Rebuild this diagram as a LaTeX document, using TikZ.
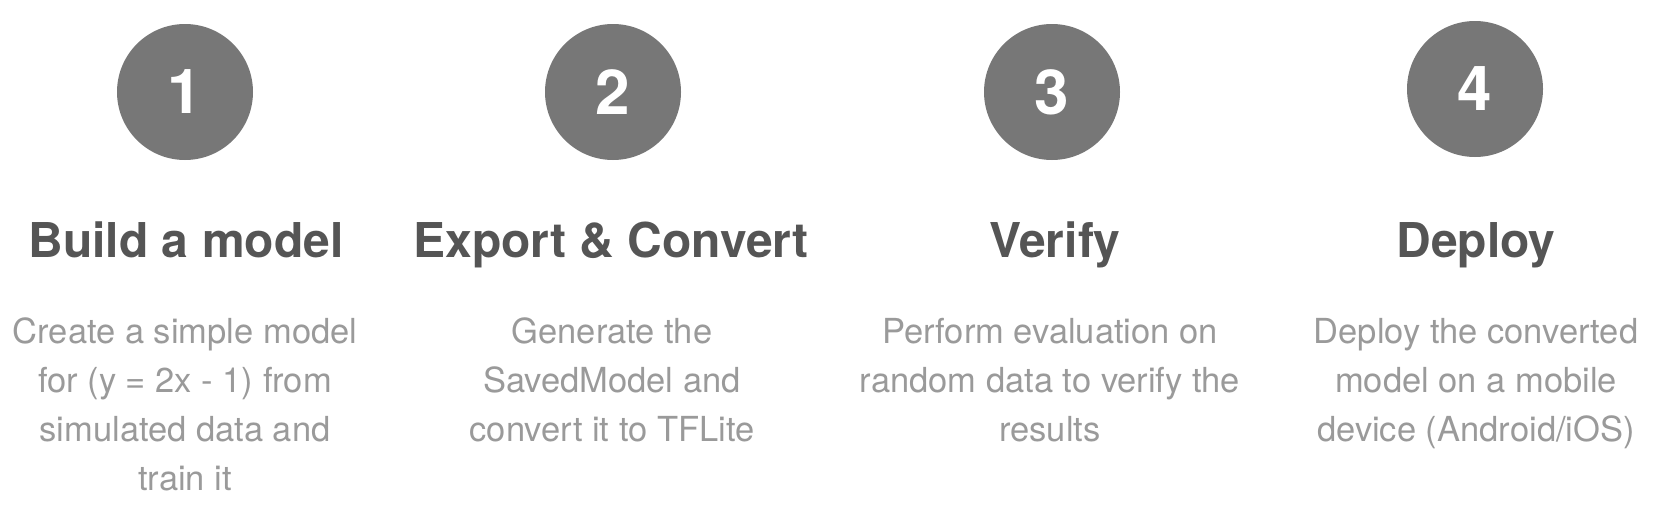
\documentclass[tikz,border=0pt]{standalone}
\usepackage{fontspec}
\setmainfont{TeX Gyre Heros}
\definecolor{discgray}{HTML}{777777}
\definecolor{headgray}{HTML}{555555}
\definecolor{bodygray}{HTML}{9A9A9A}
\tikzset{
	stepnode/.style = {align=center, inner sep=0pt, text centered},
	stp_c/.style = {stepnode, circle, white, fill=discgray, minimum size=136pt,
		font=\fontsize{62}{62}\selectfont\bfseries},% etape, cercle
	stp_t/.style = {stepnode, anchor=base, headgray,
		font=\fontsize{48}{58}\selectfont\bfseries},% etape, titre
	stp_d/.style = {stepnode, anchor=base, bodygray,
		font=\fontsize{34.5}{49}\selectfont}% etape, description (ancre = derniere ligne)
}

\begin{document}
\begin{tikzpicture}[x=1pt,y=-1pt]
	\useasboundingbox (0,0) rectangle (1671,520);
	% cercles
	\node [stp_c] (c1) at (185,92) {1};
	\node [stp_c] (c2) at (613,92) {2};
	\node [stp_c] (c3) at (1052,92) {3};
	\node [stp_c] (c4) at (1475,89) {4};
	% titres
	\node [stp_t] (t1) at (186,257) {Build a model};
	\node [stp_t] (t2) at (611,257) {Export \& Convert};
	\node [stp_t] (t3) at (1055,257) {Verify};
	\node [stp_t] (t4) at (1476,257) {Deploy};
	% descriptions
	\node [stp_d] (d1) at (185,490) {Create a simple model\\for (y = 2x - 1) from\\simulated data and\\train it};
	\node [stp_d] (d2) at (612,441) {Generate the\\SavedModel and\\convert it to TFLite};
	\node [stp_d] (d3) at (1050,441) {Perform evaluation on\\random data to verify the\\results};
	\node [stp_d] (d4) at (1476,441) {Deploy the converted\\model on a mobile\\device (Android/iOS)};
\end{tikzpicture}
\end{document}
